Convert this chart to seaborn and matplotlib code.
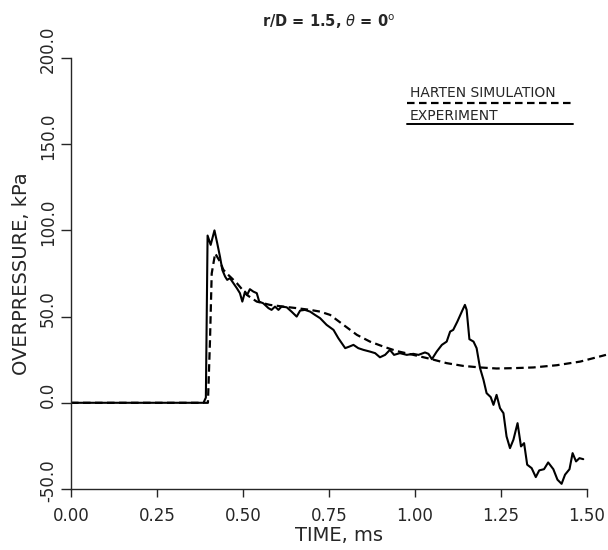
import numpy as np
import pandas as pd
import seaborn as sns
import matplotlib
matplotlib.use("Agg")
import matplotlib.pyplot as plt
from matplotlib.ticker import FormatStrFormatter
from matplotlib.transforms import ScaledTranslation

# ---- data ----
t_exp = [0.00, 0.385, 0.392, 0.397, 0.406, 0.417, 0.425, 0.433, 0.440, 0.448, 0.454, 0.462,
         0.472, 0.482, 0.491, 0.498, 0.506, 0.512, 0.520, 0.530, 0.540, 0.547, 0.559, 0.574,
         0.583, 0.593, 0.603, 0.612, 0.627, 0.641, 0.656, 0.666, 0.680, 0.695, 0.709, 0.724,
         0.743, 0.763, 0.777, 0.787, 0.797, 0.809, 0.821, 0.835, 0.850, 0.869, 0.884, 0.898,
         0.913, 0.927, 0.939, 0.956, 0.976, 0.995, 1.010, 1.029, 1.039, 1.049, 1.063, 1.078,
         1.092, 1.102, 1.111, 1.123, 1.136, 1.145, 1.150, 1.158, 1.170, 1.179, 1.189, 1.199,
         1.208, 1.220, 1.228, 1.237, 1.247, 1.257, 1.266, 1.276, 1.286, 1.298, 1.308, 1.317,
         1.326, 1.339, 1.351, 1.361, 1.375, 1.387, 1.402, 1.414, 1.426, 1.436, 1.449, 1.458,
         1.468, 1.478, 1.489]
p_exp = [0, 0, 3, 97, 91.6, 100, 92.6, 84.8, 77, 73.2, 71.3, 72.3,
         69.4, 66.5, 63.6, 58.7, 64.5, 62.6, 65.9, 64.5, 63.6, 58.7, 57.7, 54.9,
         53.9, 55.8, 53.9, 55.8, 55.4, 52.9, 50.0, 53.5, 53.9, 52.9, 51.0, 49.1,
         45.2, 42.3, 37.5, 34.6, 31.7, 32.6, 33.6, 31.7, 30.7, 29.7, 28.8, 26.4,
         27.8, 30.7, 27.8, 28.8, 27.8, 28.4, 27.8, 29.2, 28.4, 25.3, 29.7, 33.6,
         35.5, 41.3, 42.3, 47.1, 52.9, 56.8, 53.9, 36.9, 35.5, 31.7, 20.1, 13.3,
         5.6, 3.3, -1.2, 4.6, -3.1, -6.0, -19.5, -26.3, -21.4, -11.8, -25.3, -23.4,
         -35.9, -37.9, -43.1, -39.2, -38.5, -34.6, -38.5, -44.6, -47.0, -41.7, -38.5, -29.2,
         -34.0, -32.1, -32.7]

t_sim = [0.0, 0.398, 0.404, 0.409, 0.419, 0.433, 0.443, 0.453, 0.482, 0.511, 0.540, 0.578,
         0.617, 0.656, 0.695, 0.724, 0.753, 0.792, 0.831, 0.869, 0.908, 0.947, 0.995, 1.044,
         1.092, 1.140, 1.189, 1.237, 1.286, 1.344, 1.412, 1.480, 1.555]
p_sim = [0, 0, 36, 75, 86.7, 81.9, 77.1, 75, 69.4, 62.6, 58.7, 56.8,
         55.8, 54.9, 53.9, 52.9, 51.0, 45.2, 39.4, 35.5, 32.6, 30.0, 27.8, 25.5,
         23.0, 21.4, 20.5, 19.9, 20.1, 20.5, 21.8, 23.9, 27.8]

x_ticks = [0.00, 0.25, 0.50, 0.75, 1.00, 1.25, 1.50]
y_ticks = [-50.0, 0.0, 50.0, 100.0, 150.0, 200.0]

title = r"r/D = 1.5, $\theta$ = 0$^{\mathrm{o}}$"
series_names = ["HARTEN SIMULATION", "EXPERIMENT"]

# ---- styling ----
sns.set_style("ticks")
plt.rcParams["font.family"] = ["DejaVu Sans"]
plt.rcParams["axes.linewidth"] = 1.0

exp_df = pd.DataFrame({"t": t_exp, "p": p_exp})
sim_df = pd.DataFrame({"t": t_sim, "p": p_sim})

fig = plt.figure(figsize=(6.08, 5.5), dpi=100)
ax = fig.add_axes([71 / 608, 61 / 550, 536 / 608, 431 / 550])

sns.lineplot(data=exp_df, x="t", y="p", ax=ax, color="black", lw=1.5,
             estimator=None, sort=False)
sns.lineplot(data=sim_df, x="t", y="p", ax=ax, color="black", lw=1.6,
             estimator=None, sort=False, linestyle=(0, (3.4, 2.0)))

ax.set_xlim(0, 1.558)
ax.set_ylim(-50, 200)
ax.set_xticks(x_ticks)
ax.set_yticks(y_ticks)
ax.xaxis.set_major_formatter(FormatStrFormatter("%.2f"))
ax.yaxis.set_major_formatter(FormatStrFormatter("%.1f"))
ax.tick_params(axis="x", direction="out", length=6, width=1.0, pad=7, labelsize=12)
ax.tick_params(axis="y", direction="out", length=7, width=1.0, pad=3, labelsize=12,
               labelrotation=90)
shift_up = ScaledTranslation(0, 6 / 72, fig.dpi_scale_trans)
for lab in ax.get_yticklabels():
    lab.set_va("center")
    lab.set_transform(lab.get_transform() + shift_up)

sns.despine(ax=ax)
ax.spines["bottom"].set_bounds(0, 1.5)
ax.spines["left"].set_bounds(-50, 200)

ax.set_xlabel("TIME, ms", fontsize=14, labelpad=1)
ax.set_ylabel("OVERPRESSURE, kPa", fontsize=14, labelpad=6)

fig.text(329 / 608, 1 - 22 / 550, title, ha="center", va="center", fontsize=10.5,
         fontweight="bold")

# legend drawn in axes fractions (text above its line sample)
tr = ax.transAxes
ax.text(0.632, 0.918, series_names[0], transform=tr, ha="left", va="center", fontsize=10)
ax.plot([0.626, 0.937], [0.8956, 0.8956], transform=tr, color="black", lw=1.6,
        linestyle=(0, (3.4, 2.0)))
ax.text(0.632, 0.866, series_names[1], transform=tr, ha="left", va="center", fontsize=10)
ax.plot([0.626, 0.937], [0.846, 0.846], transform=tr, color="black", lw=1.4)

fig.savefig("out.png", dpi=100)
